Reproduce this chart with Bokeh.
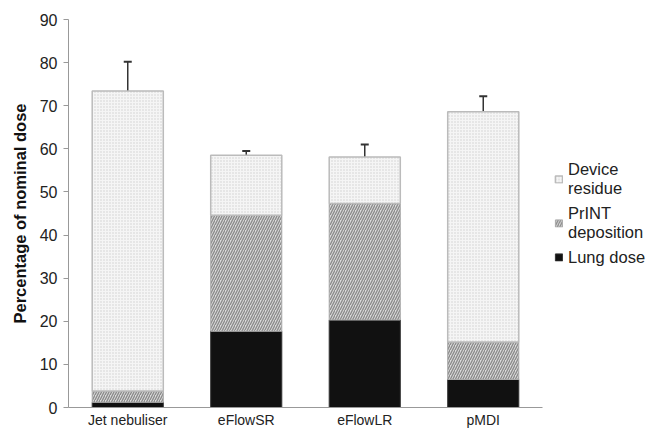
from bokeh.plotting import figure
from bokeh.models import ColumnDataSource, Range1d, FactorRange, Whisker, TeeHead, Legend, LegendItem, FixedTicker
from bokeh.embed import file_html
from bokeh.resources import INLINE

categories = ["Jet nebuliser", "eFlowSR", "eFlowLR", "pMDI"]
lung_dose = [1.2, 17.7, 20.3, 6.5]
print_dep = [2.6, 26.9, 27.0, 8.7]
device_residue = [69.6, 13.9, 10.8, 53.4]
lung_err = [0.4, 1.8, 2.0, 0.9]
print_err = [0.5, 1.0, 2.6, 0.3]
device_err = [6.8, 1.0, 2.9, 3.6]
y_ticks = [0, 10, 20, 30, 40, 50, 60, 70, 80, 90]

lung_top = lung_dose
print_top = [a + b for a, b in zip(lung_dose, print_dep)]
total_top = [a + b for a, b in zip(print_top, device_residue)]

src = ColumnDataSource(dict(
    x=categories,
    zero=[0] * 4,
    lung_top=lung_top,
    print_top=print_top,
    total_top=total_top,
    lung_up=[t + e for t, e in zip(lung_top, lung_err)],
    print_up=[t + e for t, e in zip(print_top, print_err)],
    total_up=[t + e for t, e in zip(total_top, device_err)],
))

FONT = "Liberation Sans"

p = figure(x_range=FactorRange(*categories, range_padding=0), y_range=Range1d(0, 90),
           frame_width=474, frame_height=388, output_backend="svg", toolbar_location=None,
           min_border_left=68, min_border_top=19, min_border_bottom=0, min_border_right=0)
p.outline_line_color = None
p.xgrid.grid_line_color = None
p.ygrid.grid_line_color = None

r_lung = p.vbar(x="x", bottom="zero", top="lung_top", width=0.6, source=src,
                fill_color="#111111", line_color="#333333", line_width=1)
r_print = p.vbar(x="x", bottom="lung_top", top="print_top", width=0.6, source=src,
                 fill_color="#dcdcdc", hatch_pattern="/", hatch_color="#8c8c8c",
                 hatch_scale=5, hatch_weight=1.4, line_color="#aaaaaa", line_width=1)
r_dev = p.vbar(x="x", bottom="print_top", top="total_top", width=0.6, source=src,
               fill_color="#f5f5f5", hatch_pattern=".", hatch_color="#cfcfcf",
               hatch_scale=3, hatch_weight=1, line_color="#bbbbbb", line_width=1.5)

for lo, up in [("lung_top", "lung_up"), ("print_top", "print_up"), ("total_top", "total_up")]:
    w = Whisker(source=src, base="x", lower=lo, upper=up, line_color="#333333", line_width=1.5,
                upper_head=TeeHead(size=8, line_color="#333333", line_width=2), lower_head=None)
    p.add_layout(w)

p.yaxis.ticker = FixedTicker(ticks=y_ticks)
p.yaxis.minor_tick_line_color = None
p.yaxis.major_tick_in = 0
p.yaxis.major_tick_out = 5
p.yaxis.axis_line_color = "#999999"
p.yaxis.major_tick_line_color = "#999999"
p.yaxis.major_label_text_font = FONT
p.yaxis.major_label_text_font_size = "16px"
p.yaxis.major_label_text_color = "#222222"
p.yaxis.major_label_standoff = 6
p.yaxis.axis_label = "Percentage of nominal dose"
p.yaxis.axis_label_text_font = FONT
p.yaxis.axis_label_text_font_size = "16.5px"
p.yaxis.axis_label_text_font_style = "bold"
p.yaxis.axis_label_text_color = "#111111"
p.yaxis.axis_label_standoff = 8

p.xaxis.axis_line_color = "#999999"
p.xaxis.major_tick_line_color = None
p.xaxis.major_tick_out = 0
p.xaxis.major_tick_in = 0
p.xaxis.minor_tick_line_color = None
p.xaxis.major_label_text_font = FONT
p.xaxis.major_label_text_font_size = "14px"
p.xaxis.major_label_text_color = "#222222"
p.xaxis.major_label_standoff = 4

legend = Legend(items=[
    LegendItem(label="Device\nresidue", renderers=[r_dev]),
    LegendItem(label="PrINT\ndeposition", renderers=[r_print]),
    LegendItem(label="Lung dose", renderers=[r_lung]),
], location="left", border_line_color=None, background_fill_alpha=0,
    label_text_font=FONT, label_text_font_size="16.5px", label_text_color="#222222",
    label_text_line_height=1.25,
    glyph_width=9, glyph_height=9, label_standoff=5, spacing=6, padding=0, margin=12)
p.add_layout(legend, "right")

open("out.html", "w").write(file_html(p, INLINE))
